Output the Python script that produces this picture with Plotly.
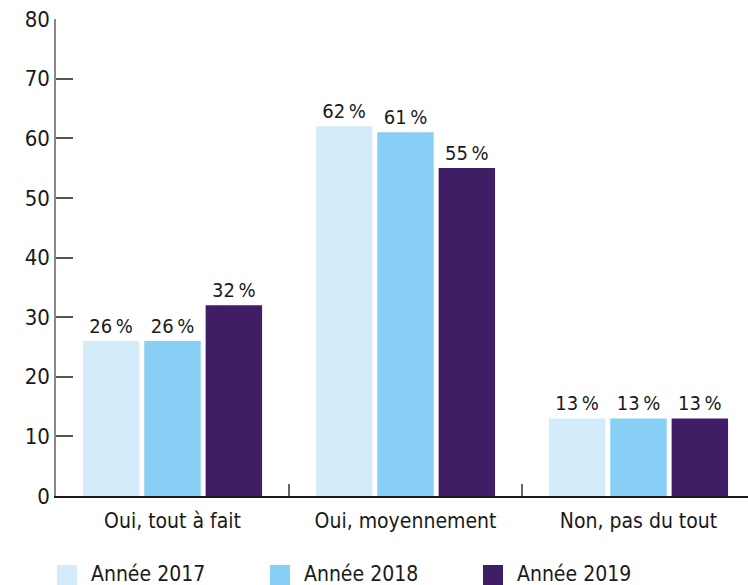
import plotly.graph_objects as go

categories = ["Oui, tout à fait", "Oui, moyennement", "Non, pas du tout"]
series_names = ["Année 2017", "Année 2018", "Année 2019"]
values_2017 = [26, 62, 13]
values_2018 = [26, 61, 13]
values_2019 = [32, 55, 13]
colors = ["#D4EBFA", "#87CFF5", "#3F1E66"]
y_ticks = [0, 10, 20, 30, 40, 50, 60, 70, 80]

FONT = "DejaVu Sans Condensed, DejaVu Sans, sans-serif"
TXT = "#1a1a1a"

fig = go.Figure()
for name, vals, col in zip(series_names, [values_2017, values_2018, values_2019], colors):
    fig.add_trace(go.Bar(
        x=categories, y=vals, name=name,
        marker=dict(color=col, line=dict(width=0)),
        text=[f"{v}\u202f%" for v in vals],
        textposition="outside",
        textfont=dict(size=20, color=TXT, family=FONT),
        cliponaxis=False,
        showlegend=False,
    ))

# manual legend (paper coordinates relative to plot area)
plot_w, plot_h = 692, 477
step = 213 / plot_w
for i, (name, col) in enumerate(zip(series_names, colors)):
    x0 = 1 / plot_w + i * step
    fig.add_shape(type="rect", xref="paper", yref="paper",
                  x0=x0, x1=x0 + 20 / plot_w, y0=-89 / plot_h, y1=-69 / plot_h,
                  fillcolor=col, line=dict(width=0))
    fig.add_annotation(xref="paper", yref="paper", x=x0 + 32 / plot_w, y=-78 / plot_h,
                       xanchor="left", yanchor="middle", text=name, showarrow=False,
                       font=dict(size=21, color=TXT, family=FONT))

fig.update_layout(
    width=748, height=585,
    margin=dict(l=56, r=0, t=19, b=89, autoexpand=False),
    plot_bgcolor="white", paper_bgcolor="white",
    barmode="group", bargap=0.21, bargroupgap=0.08,
    font=dict(family=FONT, size=18, color=TXT),
    showlegend=False,
    xaxis=dict(range=[-0.5, 2.47], showline=True, linecolor=TXT, linewidth=1.5,
               ticks="inside", tickson="boundaries", ticklen=12, tickcolor="#666", tickwidth=1.5,
               ticklabelstandoff=5,
               tickfont=dict(size=21), showgrid=False, zeroline=False, fixedrange=True),
    yaxis=dict(range=[0, 80], tickvals=y_ticks, showline=True, linecolor="#888", linewidth=1.5,
               ticks="inside", ticklen=17, tickcolor="#555", tickwidth=1.5,
               tickfont=dict(size=22), showgrid=False, zeroline=False, fixedrange=True),
)

fig.write_html("out.html", config={"displayModeBar": False},
               post_script="document.body.style.margin='0';")
